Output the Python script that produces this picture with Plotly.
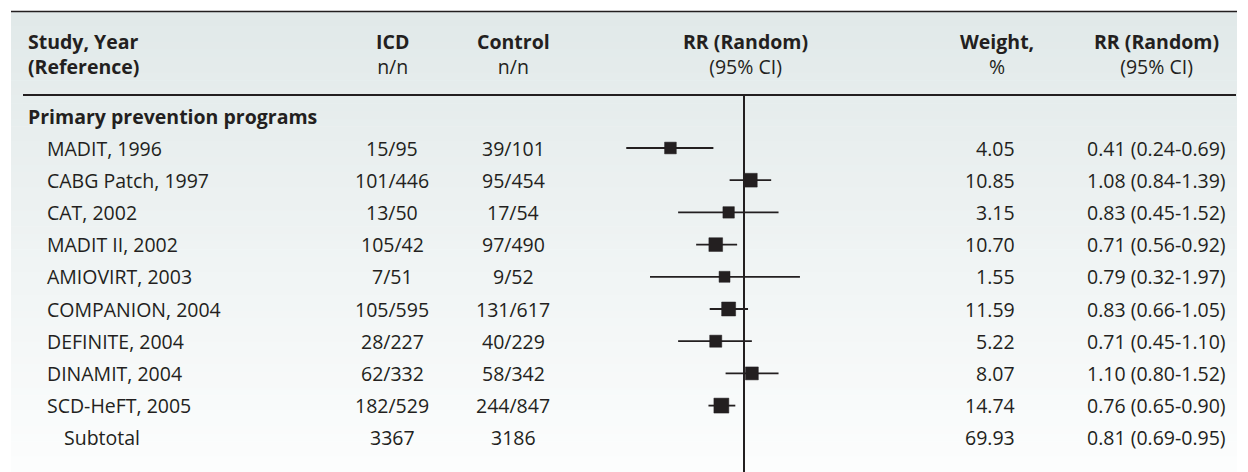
import math
import plotly.graph_objects as go

# ---------------- data ----------------
studies = ["MADIT, 1996", "CABG Patch, 1997", "CAT, 2002", "MADIT II, 2002", "AMIOVIRT, 2003",
           "COMPANION, 2004", "DEFINITE, 2004", "DINAMIT, 2004", "SCD-HeFT, 2005"]
icd = ["15/95", "101/446", "13/50", "105/42", "7/51", "105/595", "28/227", "62/332", "182/529"]
control = ["39/101", "95/454", "17/54", "97/490", "9/52", "131/617", "40/229", "58/342", "244/847"]
weight = [4.05, 10.85, 3.15, 10.70, 1.55, 11.59, 5.22, 8.07, 14.74]
rr = [0.41, 1.08, 0.83, 0.71, 0.79, 0.83, 0.71, 1.10, 0.76]
rr_lo = [0.24, 0.84, 0.45, 0.56, 0.32, 0.66, 0.45, 0.80, 0.65]
rr_hi = [0.69, 1.39, 1.52, 0.92, 1.97, 1.05, 1.10, 1.52, 0.90]

subtotal_label = "Subtotal"
subtotal_icd = "3367"
subtotal_control = "3186"
subtotal_weight = 69.93
subtotal_rr = (0.81, 0.69, 0.95)

group_label = "Primary prevention programs"
headers = [("Study, Year", "(Reference)"), ("ICD", "n/n"), ("Control", "n/n"),
           ("RR (Random)", "(95% CI)"), ("Weight,", "%"), ("RR (Random)", "(95% CI)")]

# ---------------- layout constants ----------------
W, H = 1248, 472
DARK = "#231f20"
FONT = "Open Sans"
FS = 19.5
row0_px, pitch = 148, 32.2          # pixel y of first study row, row pitch
null_px, k_ln = 744, 82.5           # pixel x of RR=1, pixels per ln unit


def ypos(px):
    return (px - row0_px) / pitch


def xp(px):
    return px / W


x_lo_log = (0 - null_px) / k_ln / math.log(10)
x_hi_log = (W - null_px) / k_ln / math.log(10)

fig = go.Figure()

# background gradient panel
shapes = []
top_c = (225, 233, 233)
bot_c = (252, 253, 253)
panel_top, panel_bot = 11, H
nb = 60
for i in range(nb):
    t = i / (nb - 1)
    c = tuple(round(top_c[j] + (bot_c[j] - top_c[j]) * t) for j in range(3))
    y0 = panel_top + (panel_bot - panel_top) * i / nb
    y1 = panel_top + (panel_bot - panel_top) * (i + 1) / nb + 0.6
    shapes.append(dict(type="rect", xref="paper", yref="y", x0=xp(11), x1=xp(1237),
                       y0=ypos(y0), y1=ypos(min(y1, H)), line=dict(width=0),
                       fillcolor="rgb(%d,%d,%d)" % c, layer="below"))
# top rule
shapes.append(dict(type="line", xref="paper", yref="y", x0=xp(11), x1=xp(1237),
                   y0=ypos(11.5), y1=ypos(11.5), line=dict(color=DARK, width=1.5)))
# header rule
shapes.append(dict(type="line", xref="paper", yref="y", x0=xp(23), x1=xp(1236),
                   y0=ypos(95), y1=ypos(95), line=dict(color=DARK, width=2)))
# null line
shapes.append(dict(type="line", xref="x", yref="y", x0=1, x1=1,
                   y0=ypos(95), y1=ypos(H), line=dict(color=DARK, width=2)))

# CI lines
ci_x, ci_y = [], []
for i in range(len(studies)):
    ci_x += [rr_lo[i], rr_hi[i], None]
    ci_y += [i, i, None]
fig.add_trace(go.Scatter(x=ci_x, y=ci_y, mode="lines", line=dict(color=DARK, width=1.8),
                         hoverinfo="skip", showlegend=False))
# squares
fig.add_trace(go.Scatter(x=rr, y=list(range(len(studies))), mode="markers",
                         marker=dict(symbol="square", color=DARK, opacity=1,
                                     size=[10.5 + 0.3 * w for w in weight],
                                     line=dict(width=0.5, color=DARK)),
                         showlegend=False))

ann = []


def txt(s, px_x, px_y, anchor="center", bold=False):
    ann.append(dict(text=s, xref="paper", yref="y",
                    x=xp(px_x), y=ypos(px_y), xanchor=anchor, yanchor="middle",
                    align=anchor if anchor != "right" else "right",
                    showarrow=False, font=dict(family=FONT, size=FS, color=DARK,
                                               weight="bold" if bold else "normal")))


# header (two-line labels as a single text block)
hdr_x = [(26, "left"), (392, "center"), (513, "center"), (745, "center"), (997, "center"), (1156, "center")]
for (h1, h2), (hx, anc) in zip(headers, hdr_x):
    second = ("<b>%s</b>" % h2) if anc == "left" else h2
    txt("<b>%s</b><br>%s" % (h1, second), hx, 53.5, anc)

txt(group_label, 26, 116, "left", bold=True)

for i, s in enumerate(studies):
    py = row0_px + pitch * i
    txt(s, 45, py, "left")
    txt(icd[i], 392, py)
    txt(control[i], 513, py)
    txt("%.2f" % weight[i], 1017, py, "right")
    txt("%.2f (%.2f-%.2f)" % (rr[i], rr_lo[i], rr_hi[i]), 1228, py, "right")

py = row0_px + pitch * len(studies)
txt(subtotal_label, 62, py, "left")
txt(subtotal_icd, 392, py)
txt(subtotal_control, 513, py)
txt("%.2f" % subtotal_weight, 1017, py, "right")
txt("%.2f (%.2f-%.2f)" % subtotal_rr, 1228, py, "right")

fig.update_layout(
    width=W, height=H, margin=dict(l=0, r=0, t=0, b=0),
    paper_bgcolor="white", plot_bgcolor="rgba(0,0,0,0)",
    xaxis=dict(type="log", range=[x_lo_log, x_hi_log], visible=False, fixedrange=True),
    yaxis=dict(range=[ypos(H), ypos(0)], visible=False, fixedrange=True),
    shapes=shapes, annotations=ann, showlegend=False,
)

fig.write_html("out.html", config={"displayModeBar": False},
               post_script="document.body.style.margin='0';document.body.style.overflow='hidden';")
